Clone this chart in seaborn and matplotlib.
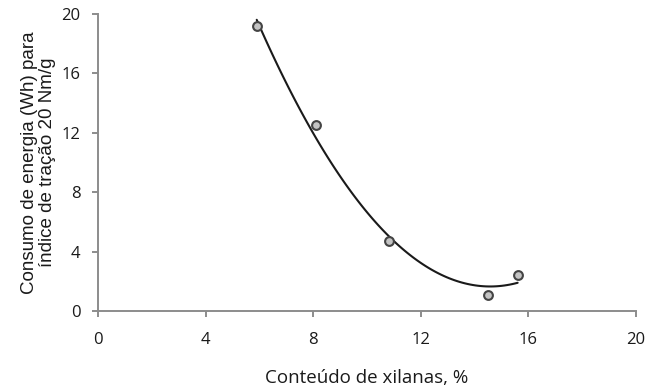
import matplotlib
matplotlib.use("Agg")
import matplotlib.pyplot as plt
import numpy as np
import pandas as pd
import seaborn as sns

# Xylan content (%) and energy consumption (Wh) to reach tensile index 20 Nm/g
xilanas = [5.9, 8.1, 10.8, 14.5, 15.6]
consumo = [19.2, 12.5, 4.7, 1.1, 2.4]

x_ticks = [0, 4, 8, 12, 16, 20]
y_ticks = [0, 4, 8, 12, 16, 20]

df = pd.DataFrame({"xilanas": xilanas, "consumo": consumo})

sns.set_style("white")
plt.rcParams["font.family"] = ["Open Sans", "DejaVu Sans"]

fig = plt.figure(figsize=(6.47, 3.87), dpi=100)
ax = fig.add_axes([0.1515, 0.196, 0.8315, 0.768])

# second-order polynomial trendline
sns.regplot(data=df, x="xilanas", y="consumo", order=2, ci=None, scatter=False,
            line_kws={"color": "#1a1a1a", "linewidth": 1.5}, ax=ax)
sns.scatterplot(data=df, x="xilanas", y="consumo", ax=ax, s=40,
                color="#c4c4c4", edgecolor="#444444", linewidth=1.5, zorder=3)

ax.set_xlim(0, 20)
ax.set_ylim(0, 20)
ax.set_xticks(x_ticks)
ax.set_yticks(y_ticks)
ax.set_xticklabels([str(t) for t in x_ticks])
ax.set_yticklabels([str(t) for t in y_ticks])

for side in ("top", "right"):
    ax.spines[side].set_visible(False)
for side in ("left", "bottom"):
    ax.spines[side].set_color("#8c8c8c")
    ax.spines[side].set_linewidth(1.4)

ax.tick_params(axis="both", bottom=True, left=True, direction="out", length=4.5,
               width=1.4, color="#8c8c8c", labelsize=12, labelcolor="#1a1a1a")
ax.tick_params(axis="x", pad=10.5)
ax.tick_params(axis="y", pad=8)

ax.set_xlabel("Conteúdo de xilanas, %", fontsize=13.5, color="#1a1a1a", labelpad=15)
ax.set_ylabel("Consumo de energia (Wh) para\níndice de tração 20 Nm/g",
              fontsize=13.5, color="#1a1a1a", family=["Liberation Sans", "DejaVu Sans"],
              labelpad=4, linespacing=1.05)

fig.savefig("out.png", dpi=100)
